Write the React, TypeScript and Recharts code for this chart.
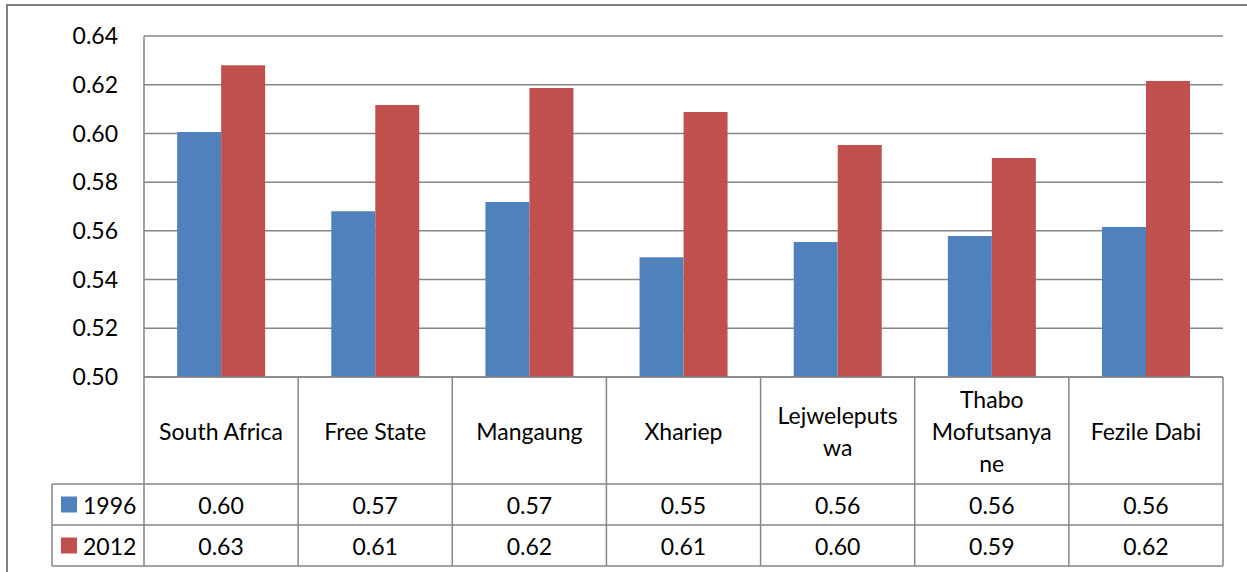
import React from 'react'
import { BarChart, Bar, XAxis, YAxis, CartesianGrid } from 'recharts'

const categories = ['South Africa', 'Free State', 'Mangaung', 'Xhariep', 'Lejweleputswa', 'Thabo Mofutsanyane', 'Fezile Dabi']
// wrapped the way the data table cells break them
const categoryLines = [
    ['South Africa'],
    ['Free State'],
    ['Mangaung'],
    ['Xhariep'],
    ['Lejweleputs', 'wa'],
    ['Thabo', 'Mofutsanya', 'ne'],
    ['Fezile Dabi'],
]
const values1996 = [0.6006, 0.568, 0.5718, 0.5492, 0.5554, 0.5579, 0.5616]
const values2012 = [0.628, 0.6117, 0.6186, 0.6088, 0.5952, 0.5899, 0.6215]
const seriesNames = ['1996', '2012']
const yTicks = [0.5, 0.52, 0.54, 0.56, 0.58, 0.6, 0.62, 0.64]

const BLUE = '#4F81BD'
const RED = '#C0504D'
const LINE = '#868686'
const FONT = 'Lato, "Open Sans", sans-serif'
const FONT_SIZE = 23

const WIDTH = 1247
const HEIGHT = 572
const PLOT_LEFT = 144
const PLOT_RIGHT = 1223
const CELL_W = (PLOT_RIGHT - PLOT_LEFT) / categories.length
const HEADER_H = 107
const ROW_H = 41
const LEGEND_COL_W = 92

const rows = categories.map((name, i) => ({
    name,
    v1996: values1996[i],
    v2012: values2012[i],
}))

function TableCell(props: any) {
    const { x, y, index } = props
    const left = x - CELL_W / 2
    const right = x + CELL_W / 2
    const lines = categoryLines[index]
    const lineGap = 32
    const headerMid = y + HEADER_H / 2
    const firstLine = headerMid - ((lines.length - 1) * lineGap) / 2
    const row1 = y + HEADER_H
    const row2 = row1 + ROW_H
    const bottom = row2 + ROW_H
    const vals = [values1996[index], values2012[index]]
    const colors = [BLUE, RED]
    const textProps = {
        fontFamily: FONT,
        fontSize: FONT_SIZE,
        fill: '#000',
        dominantBaseline: 'central' as const,
    }
    return (
        <g>
            <line x1={left} x2={left} y1={y} y2={bottom} stroke={LINE} strokeWidth={1.5} />
            {index === categories.length - 1 && (
                <line x1={right} x2={right} y1={y} y2={bottom} stroke={LINE} strokeWidth={1.5} />
            )}
            {[row1, row2, bottom].map((ly) => (
                <line key={ly} x1={left} x2={right} y1={ly} y2={ly} stroke={LINE} strokeWidth={1.5} />
            ))}
            {lines.map((t, i) => (
                <text key={i} x={x} y={firstLine + i * lineGap} textAnchor="middle" {...textProps}>
                    {t}
                </text>
            ))}
            {vals.map((v, i) => (
                <text key={i} x={x} y={row1 + ROW_H / 2 + i * ROW_H} textAnchor="middle" {...textProps}>
                    {v.toFixed(2)}
                </text>
            ))}
            {index === 0 && (
                <g>
                    <line x1={left - LEGEND_COL_W} x2={left - LEGEND_COL_W} y1={row1} y2={bottom} stroke={LINE} strokeWidth={1.5} />
                    {[row1, row2, bottom].map((ly) => (
                        <line key={ly} x1={left - LEGEND_COL_W} x2={left} y1={ly} y2={ly} stroke={LINE} strokeWidth={1.5} />
                    ))}
                    {seriesNames.map((s, i) => {
                        const cy = row1 + ROW_H / 2 + i * ROW_H
                        return (
                            <g key={s}>
                                <rect x={left - LEGEND_COL_W + 9} y={cy - 8} width={16} height={16} fill={colors[i]} />
                                <text x={left - LEGEND_COL_W + 31} y={cy} textAnchor="start" {...textProps}>
                                    {s}
                                </text>
                            </g>
                        )
                    })}
                </g>
            )}
        </g>
    )
}

export default function App() {
    return (
        <div style={{ position: 'absolute', left: 0, top: 0, width: WIDTH, height: HEIGHT, overflow: 'hidden', background: '#fff' }}>
            <div
                style={{
                    position: 'absolute',
                    left: 6,
                    top: 4,
                    width: WIDTH + 40,
                    height: HEIGHT + 40,
                    border: '2px solid #7f7f7f',
                }}
            />
            <div style={{ position: 'absolute', left: 0, top: 0 }}>
                <BarChart
                    width={WIDTH}
                    height={HEIGHT}
                    data={rows}
                    margin={{ top: 36, right: WIDTH - PLOT_RIGHT, left: 0, bottom: 5 }}
                    barCategoryGap="21.5%"
                    barGap={0}
                >
                    <CartesianGrid vertical={false} stroke={LINE} strokeWidth={1.5} />
                    <XAxis
                        dataKey="name"
                        height={HEIGHT - 36 - 341 - 5}
                        axisLine={{ stroke: LINE, strokeWidth: 1.5 }}
                        tickLine={false}
                        tickSize={0}
                        tickMargin={0}
                        interval={0}
                        tick={(p: any) => <TableCell {...p} />}
                    />
                    <YAxis
                        width={PLOT_LEFT}
                        domain={[0.5, 0.64]}
                        ticks={yTicks}
                        tickFormatter={(v: number) => v.toFixed(2)}
                        axisLine={{ stroke: LINE, strokeWidth: 1.5 }}
                        tickLine={false}
                        tickSize={0}
                        tickMargin={26}
                        tick={{ fill: '#000', fontSize: FONT_SIZE, fontFamily: FONT }}
                        allowDataOverflow
                    />
                    <Bar dataKey="v1996" name="1996" fill={BLUE} isAnimationActive={false} />
                    <Bar dataKey="v2012" name="2012" fill={RED} isAnimationActive={false} />
                </BarChart>
            </div>
        </div>
    )
}
